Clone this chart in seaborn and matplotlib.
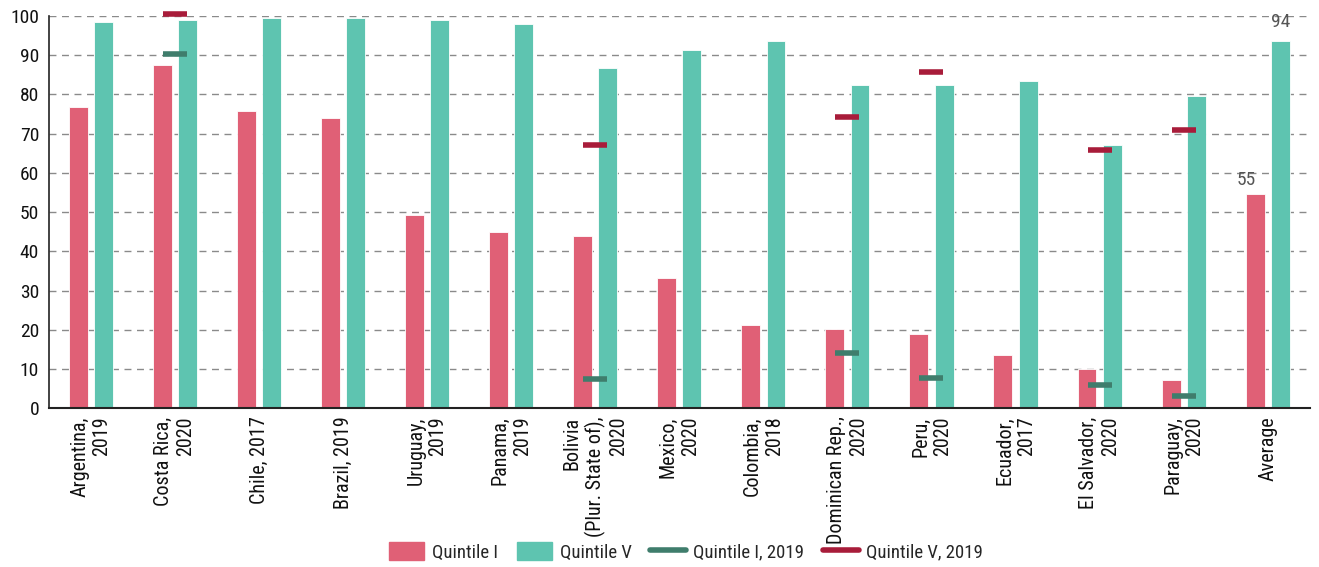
import numpy as np
import pandas as pd
import seaborn as sns
import matplotlib.pyplot as plt
from matplotlib import font_manager
from matplotlib.lines import Line2D
from matplotlib.patches import Patch

categories = ['Argentina,\n2019', 'Costa Rica,\n2020', 'Chile, 2017', 'Brazil, 2019',
              'Uruguay,\n2019', 'Panama,\n2019', 'Bolivia\n(Plur. State of),\n2020',
              'Mexico,\n2020', 'Colombia,\n2018', 'Dominican Rep.,\n2020', 'Peru,\n2020',
              'Ecuador,\n2017', 'El Salvador,\n2020', 'Paraguay,\n2020', 'Average']
quintile_1 = [76.7, 87.6, 75.8, 73.9, 49.2, 44.9, 44.0, 33.1, 21.3, 20.3, 19.0, 13.6, 9.9, 7.1, 54.5]
quintile_5 = [98.5, 98.9, 99.5, 99.5, 98.9, 98.0, 86.6, 91.4, 93.7, 82.3, 82.3, 83.3, 67.2, 79.5, 93.7]
quintile_1_2019 = [np.nan, 90.2, np.nan, np.nan, np.nan, np.nan, 7.4, np.nan, np.nan, 14.0, 7.8,
                   np.nan, 5.8, 3.0, np.nan]
quintile_5_2019 = [np.nan, 100.4, np.nan, np.nan, np.nan, np.nan, 67.2, np.nan, np.nan, 74.3, 85.7,
                   np.nan, 65.8, 71.0, np.nan]
avg_labels = {'Quintile I': '55', 'Quintile V': '94'}

c_q1 = '#e06076'
c_q5 = '#5ec4b0'
c_q1_19 = '#3f7d6c'
c_q5_19 = '#a81c3a'

sns.set_style('white')
installed = {f.name for f in font_manager.fontManager.ttflist}
family = 'DejaVu Sans'
for name in ['Roboto Condensed', 'Liberation Sans Narrow', 'DejaVu Sans Condensed']:
    if name in installed:
        family = name
        break
plt.rcParams['font.family'] = [family, 'DejaVu Sans']

df = pd.DataFrame({
    'country': categories * 2,
    'value': quintile_1 + quintile_5,
    'series': ['Quintile I'] * len(categories) + ['Quintile V'] * len(categories),
})

fig = plt.figure(figsize=(13.19, 5.67), dpi=100)
ax = fig.add_axes([0.037, 0.28, 0.956, 0.692])

ax.set_axisbelow(True)
ax.yaxis.grid(True, linestyle=(0, (5, 4)), color='#8a8a8a', linewidth=1)

sns.barplot(data=df, x='country', y='value', hue='series', order=categories,
            palette={'Quintile I': c_q1, 'Quintile V': c_q5}, width=0.6, gap=0.25,
            saturation=1, edgecolor='white', linewidth=0.6, legend=False, ax=ax)

x = np.arange(len(categories))
ax.plot(x, quintile_1_2019, linestyle='none', marker='_', markersize=17,
        markeredgewidth=4, color=c_q1_19, clip_on=False, zorder=4)
ax.plot(x, quintile_5_2019, linestyle='none', marker='_', markersize=17,
        markeredgewidth=4, color=c_q5_19, clip_on=False, zorder=4)

last = len(categories) - 1
ax.text(last - 0.25, quintile_1[-1] + 1.3, avg_labels['Quintile I'], ha='center',
        va='bottom', fontsize=14, color='#555555')
ax.text(last + 0.15, quintile_5[-1] + 2.5, avg_labels['Quintile V'], ha='center',
        va='bottom', fontsize=14, color='#555555')

ax.set_xlim(-0.5, len(categories) - 0.5)
ax.set_ylim(0, 100)
ax.set_yticks(range(0, 101, 10))
ax.set_xlabel('')
ax.set_ylabel('')
for s in ['top', 'right']:
    ax.spines[s].set_visible(False)
ax.spines['left'].set_color('#222222')
ax.spines['bottom'].set_color('#222222')
ax.spines['left'].set_linewidth(1.2)
ax.spines['bottom'].set_linewidth(1.5)

ax.set_xticks(x)
ax.set_xticklabels(categories, rotation=90, ha='center', va='top', ma='right',
                   fontsize=14.5, color='#111111')
ax.tick_params(axis='x', length=0, pad=6)
ax.set_xticks(np.arange(-0.5, len(categories), 1), minor=True)
ax.tick_params(axis='x', which='minor', length=7, width=1, color='#222222')
ax.tick_params(axis='y', length=5, width=1, color='#222222', labelsize=14,
               labelcolor='#111111', pad=2)

handles = [Patch(color=c_q1), Patch(color=c_q5),
           Line2D([], [], color=c_q1_19, linewidth=4),
           Line2D([], [], color=c_q5_19, linewidth=4)]
labels = ['Quintile I', 'Quintile V', 'Quintile I, 2019', 'Quintile V, 2019']
fig.legend(handles, labels, loc='lower center', bbox_to_anchor=(0.52, -0.02), ncol=4,
           frameon=False, fontsize=13.5, handlelength=1.9, handleheight=1.1,
           columnspacing=1.0, handletextpad=0.4)

fig.savefig('out.png', dpi=100)
